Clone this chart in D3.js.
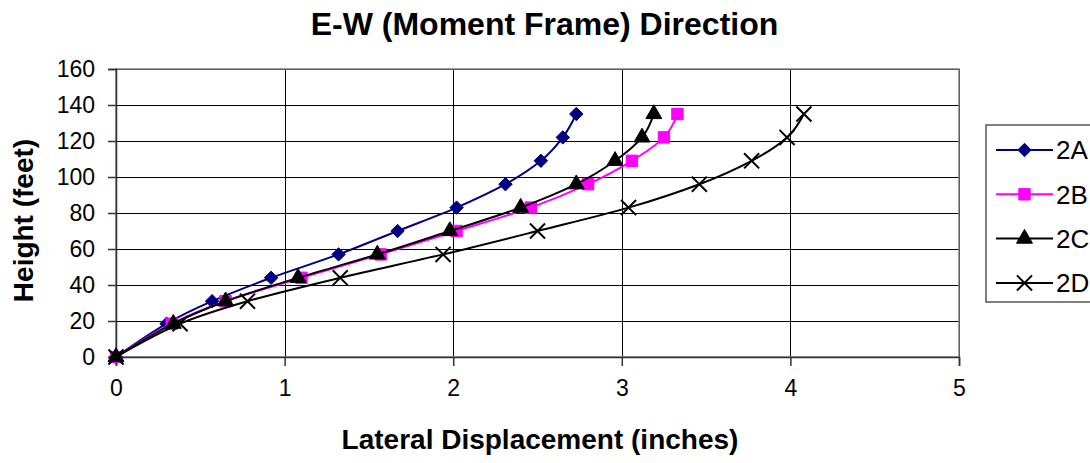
<!DOCTYPE html>
<html>
<head>
<meta charset="utf-8">
<script src="https://cdn.jsdelivr.net/npm/d3@7"></script>
<style>
  html, body { margin: 0; padding: 0; background: #fff; }
  svg { display: block; }
  text { font-family: "Liberation Sans", Arial, sans-serif; fill: #000; }
</style>
</head>
<body>
<svg id="chart" width="1090" height="463"></svg>
<script>
// Storey heights (feet) shared by every series
const heights = [0, 18.5, 31, 44, 57, 70, 83, 96, 109, 122, 135];

// Lateral displacement (inches) at each storey
const disp2A = [0, 0.30, 0.57, 0.92, 1.32, 1.67, 2.02, 2.31, 2.52, 2.65, 2.73];
const disp2B = [0, 0.33, 0.65, 1.10, 1.57, 2.02, 2.46, 2.80, 3.06, 3.25, 3.33];
const disp2C = [0, 0.34, 0.65, 1.08, 1.55, 1.98, 2.40, 2.73, 2.96, 3.12, 3.19];
const disp2D = [0, 0.38, 0.78, 1.33, 1.94, 2.50, 3.04, 3.46, 3.77, 3.98, 4.08];

const seriesNames = ["2A", "2B", "2C", "2D"];
const xTicks = [0, 1, 2, 3, 4, 5];
const yTicks = [0, 20, 40, 60, 80, 100, 120, 140, 160];

const series = [
  { name: seriesNames[0], values: disp2A, color: "#000080", marker: "diamond" },
  { name: seriesNames[1], values: disp2B, color: "#FF00FF", marker: "square" },
  { name: seriesNames[2], values: disp2C, color: "#000000", marker: "triangle" },
  { name: seriesNames[3], values: disp2D, color: "#000000", marker: "cross" }
];

const svg = d3.select("#chart");
const plot = { left: 116, right: 959, top: 69, bottom: 357 };

const x = d3.scaleLinear().domain([0, 5]).range([plot.left, plot.right]);
const y = d3.scaleLinear().domain([0, 160]).range([plot.bottom, plot.top]);

// Gridlines
const grid = svg.append("g").attr("shape-rendering", "crispEdges");
grid.selectAll("line.h").data(yTicks.slice(1)).join("line")
  .attr("x1", plot.left).attr("x2", plot.right)
  .attr("y1", d => Math.round(y(d)) + 0.5).attr("y2", d => Math.round(y(d)) + 0.5)
  .attr("stroke", "#000").attr("stroke-width", 1);
grid.selectAll("line.v").data(xTicks.slice(1)).join("line")
  .attr("y1", plot.top).attr("y2", plot.bottom)
  .attr("x1", d => Math.round(x(d)) + 0.5).attr("x2", d => Math.round(x(d)) + 0.5)
  .attr("stroke", "#000").attr("stroke-width", 1);

// Plot-area border
svg.append("rect")
  .attr("x", plot.left).attr("y", plot.top)
  .attr("width", plot.right - plot.left).attr("height", plot.bottom - plot.top)
  .attr("fill", "none").attr("stroke", "#808080").attr("stroke-width", 1.5);

// Axes
const xAxis = svg.append("g")
  .attr("transform", `translate(0,${plot.bottom})`)
  .call(d3.axisBottom(x).tickValues(xTicks).tickSize(9).tickPadding(14).tickFormat(d3.format("d")));
const yAxis = svg.append("g")
  .attr("transform", `translate(${plot.left},0)`)
  .call(d3.axisLeft(y).tickValues(yTicks).tickSize(8).tickPadding(13).tickFormat(d3.format("d")));

[xAxis, yAxis].forEach(a => {
  a.select(".domain").attr("stroke", "#333").attr("stroke-width", 1.5);
  a.selectAll(".tick line").attr("stroke", "#333").attr("stroke-width", 1.5);
  a.selectAll(".tick text")
    .attr("font-family", "Liberation Sans, Arial, sans-serif")
    .attr("font-size", 23).attr("fill", "#000");
});
xAxis.selectAll(".tick text").attr("dy", "0.71em");

// Lines (smoothed)
const line = d3.line()
  .x(d => x(d[0])).y(d => y(d[1]))
  .curve(d3.curveCatmullRom.alpha(0));

// Square-proportioned diamond marker
const squareDiamond = {
  draw(ctx, size) {
    const r = Math.sqrt(size / 2);
    ctx.moveTo(0, -r); ctx.lineTo(r, 0); ctx.lineTo(0, r); ctx.lineTo(-r, 0); ctx.closePath();
  }
};

const symbolFor = {
  diamond: d3.symbol().type(squareDiamond).size(90),
  square: d3.symbol().type(d3.symbolSquare).size(130),
  triangle: d3.symbol().type(d3.symbolTriangle).size(110),
  cross: d3.symbol().type(d3.symbolTimes).size(150)
};

function drawMarker(g, s, cx, cy) {
  const m = g.append("path")
    .attr("d", symbolFor[s.marker]())
    .attr("transform", `translate(${cx},${cy})`);
  if (s.marker === "cross") {
    m.attr("fill", "none").attr("stroke", s.color).attr("stroke-width", 2);
  } else {
    m.attr("fill", s.color).attr("stroke", s.color).attr("stroke-width", 1);
  }
}

series.forEach(s => {
  const pts = s.values.map((v, i) => [v, heights[i]]);
  const g = svg.append("g");
  g.append("path").datum(pts)
    .attr("d", line)
    .attr("fill", "none").attr("stroke", s.color).attr("stroke-width", 2);
  pts.forEach(p => drawMarker(g, s, x(p[0]), y(p[1])));
});

// Title
svg.append("text")
  .attr("x", 544.5).attr("y", 35)
  .attr("text-anchor", "middle")
  .attr("font-size", 32).attr("font-weight", "bold")
  .text("E-W (Moment Frame) Direction");

// Axis titles
svg.append("text")
  .attr("x", 540).attr("y", 449)
  .attr("text-anchor", "middle")
  .attr("font-size", 28).attr("font-weight", "bold")
  .text("Lateral Displacement (inches)");

svg.append("text")
  .attr("transform", "translate(33,220.5) rotate(-90)")
  .attr("text-anchor", "middle")
  .attr("font-size", 28).attr("font-weight", "bold")
  .text("Height (feet)");

// Legend
const legend = svg.append("g");
legend.append("rect")
  .attr("x", 986).attr("y", 125).attr("width", 140).attr("height", 177)
  .attr("fill", "#fff").attr("stroke", "#555").attr("stroke-width", 1.5);

series.forEach((s, i) => {
  const ly = 150 + i * 44.3;
  legend.append("line")
    .attr("x1", 996).attr("x2", 1053).attr("y1", ly).attr("y2", ly)
    .attr("stroke", s.color).attr("stroke-width", 2);
  drawMarker(legend, s, 1024.5, ly);
  legend.append("text")
    .attr("x", 1056).attr("y", ly)
    .attr("dy", "0.36em")
    .attr("font-size", 26)
    .text(s.name);
});
</script>
</body>
</html>
